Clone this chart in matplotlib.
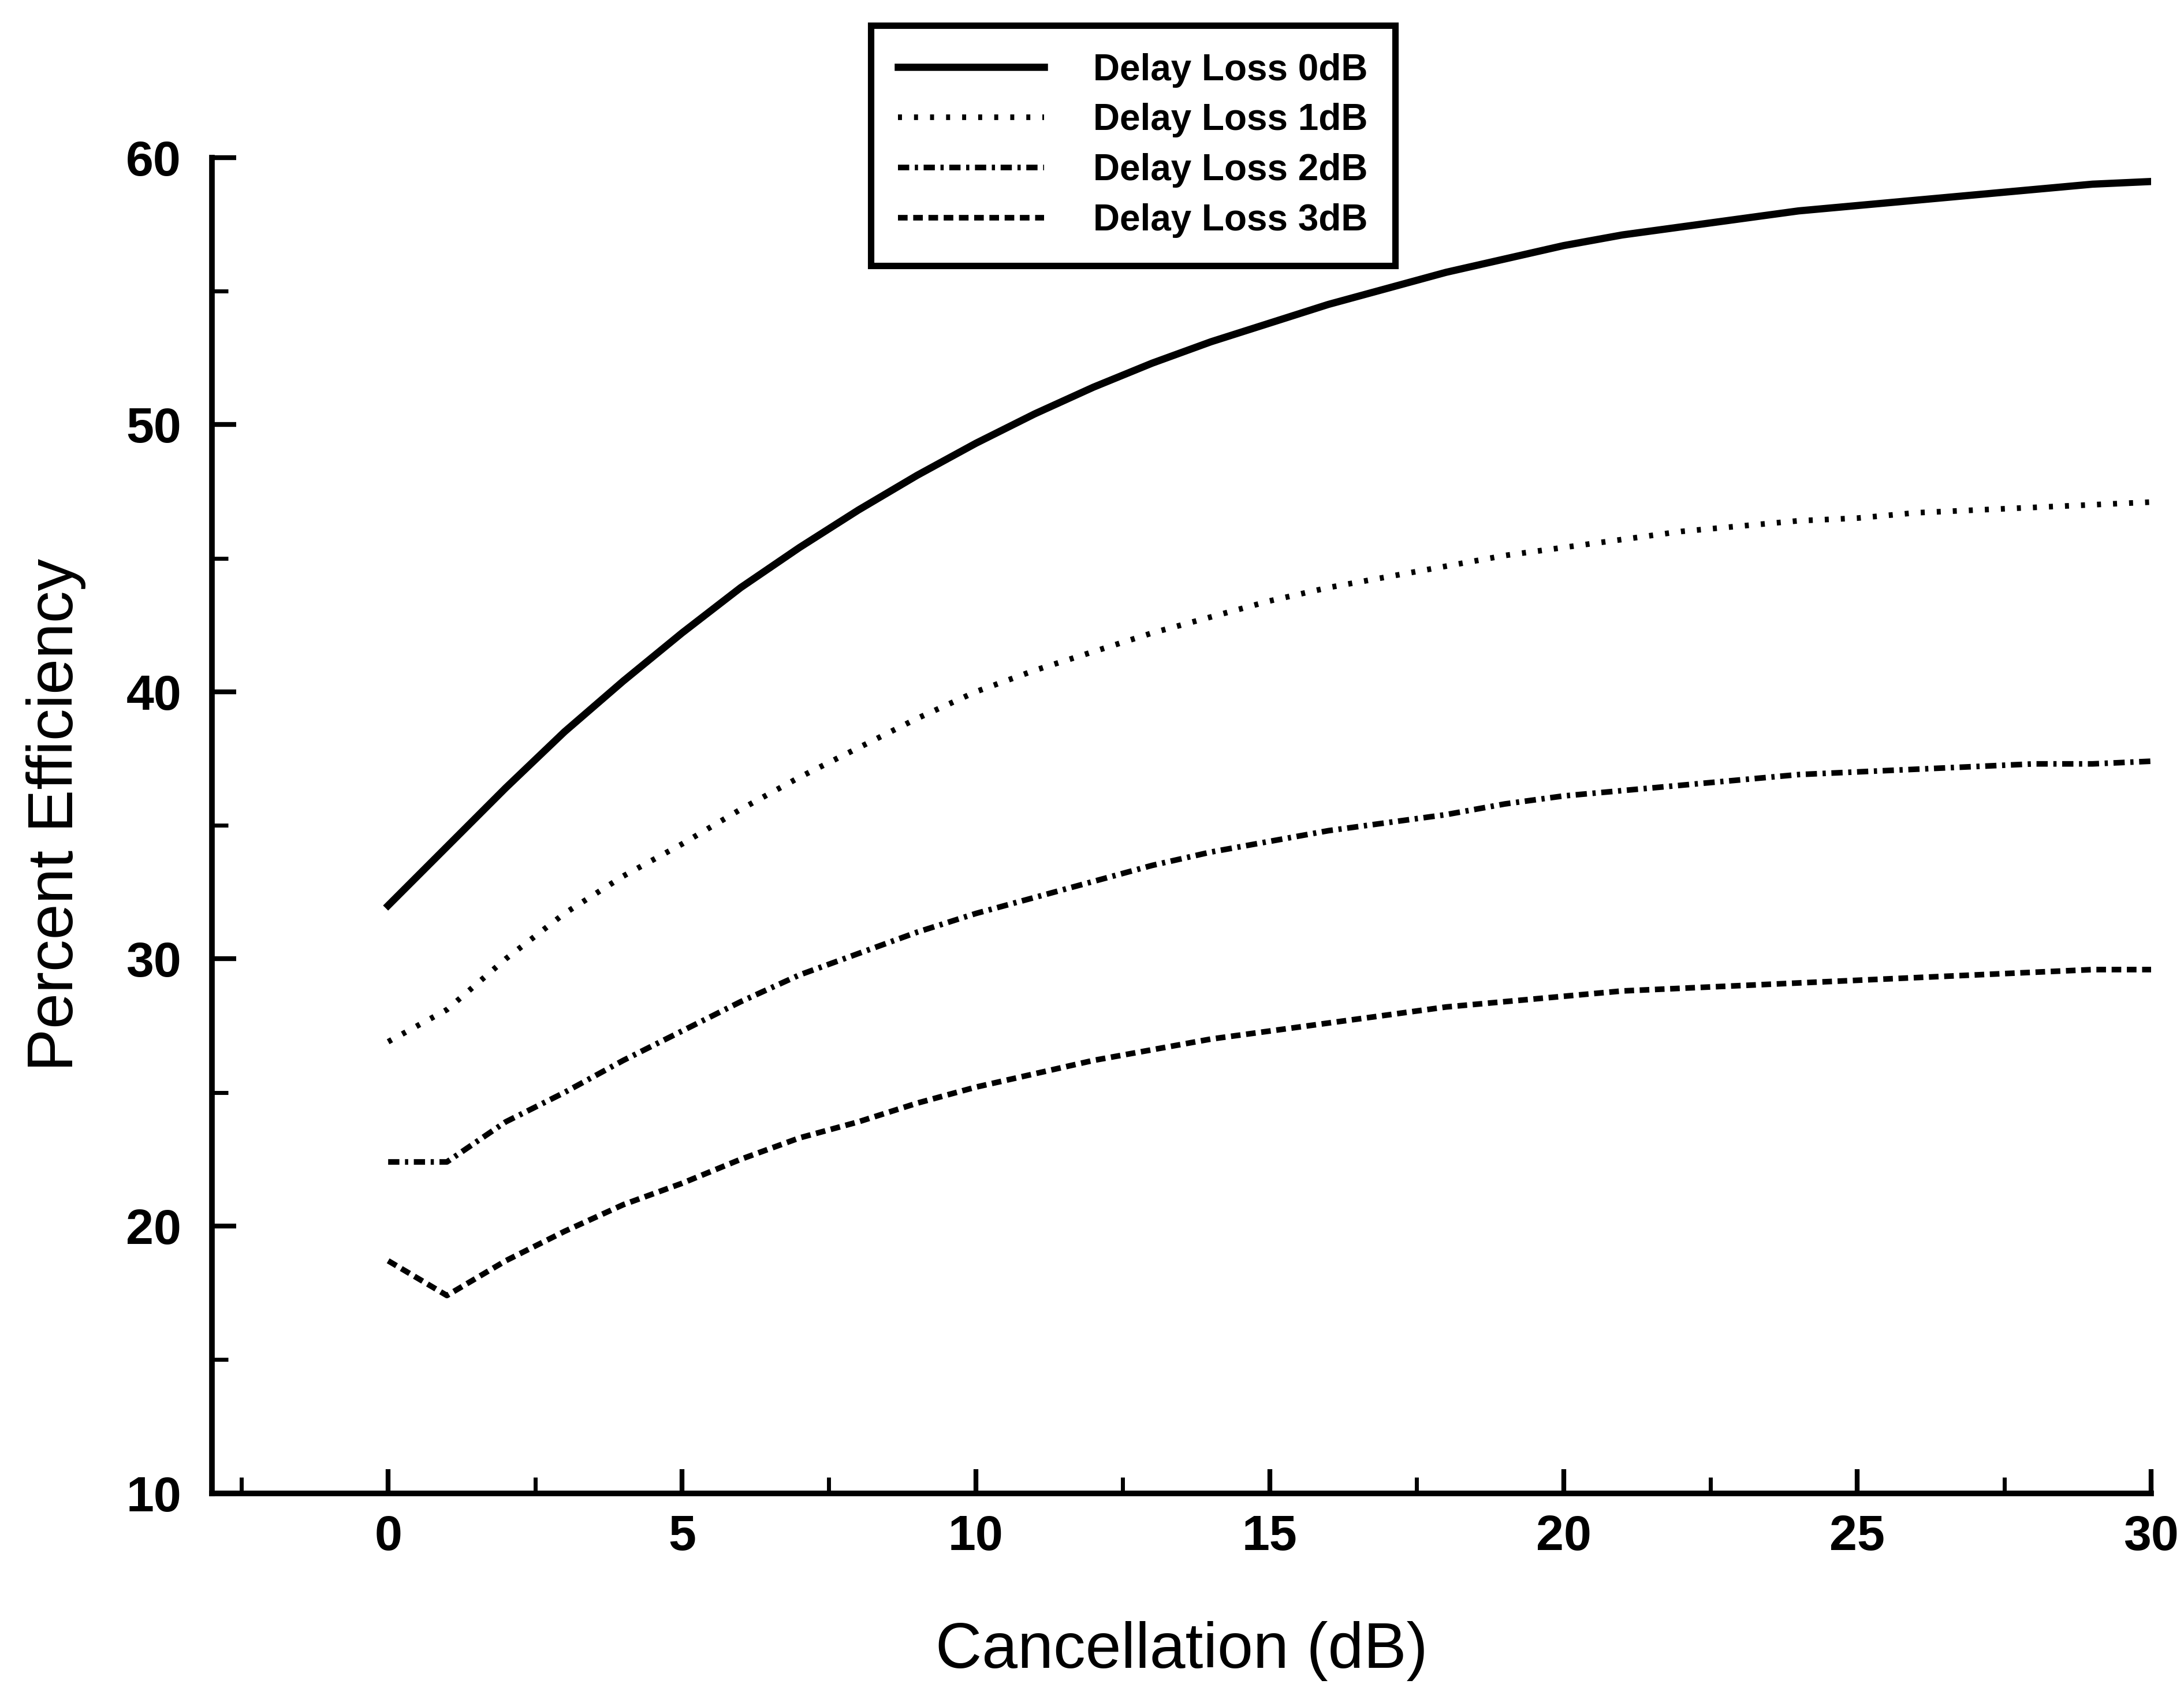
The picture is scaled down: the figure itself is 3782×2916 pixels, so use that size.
import matplotlib
matplotlib.use('Agg')
import matplotlib.pyplot as plt
from matplotlib.ticker import MultipleLocator

# values (percent efficiency vs cancellation)
cancel_db = list(range(0, 31))
loss_0db = [32.0, 34.2, 36.4, 38.5, 40.4, 42.2, 43.9, 45.4, 46.8, 48.1, 49.3,
            50.4, 51.4, 52.3, 53.1, 53.8, 54.5, 55.1, 55.7, 56.2, 56.7,
            57.1, 57.4, 57.7, 58.0, 58.2, 58.4, 58.6, 58.8, 59.0, 59.1]
loss_1db = [26.9, 28.1, 30.0, 31.7, 33.1, 34.3, 35.6, 36.8, 37.9, 39.0, 40.0,
            40.8, 41.5, 42.2, 42.8, 43.4, 43.9, 44.3, 44.7, 45.1, 45.4,
            45.7, 46.0, 46.2, 46.4, 46.5, 46.7, 46.8, 46.9, 47.0, 47.1]
loss_2db = [22.4, 22.4, 23.9, 25.0, 26.2, 27.3, 28.4, 29.4, 30.2, 31.0, 31.7,
            32.3, 32.9, 33.5, 34.0, 34.4, 34.8, 35.1, 35.4, 35.8, 36.1,
            36.3, 36.5, 36.7, 36.9, 37.0, 37.1, 37.2, 37.3, 37.3, 37.4]
loss_3db = [18.7, 17.4, 18.7, 19.8, 20.8, 21.6, 22.5, 23.3, 23.9, 24.6, 25.2,
            25.7, 26.2, 26.6, 27.0, 27.3, 27.6, 27.9, 28.2, 28.4, 28.6,
            28.8, 28.9, 29.0, 29.1, 29.2, 29.3, 29.4, 29.5, 29.6, 29.6]
labels = ['Delay Loss 0dB', 'Delay Loss 1dB', 'Delay Loss 2dB', 'Delay Loss 3dB']

plt.rcParams['font.family'] = ['Liberation Sans', 'DejaVu Sans']
plt.rcParams['lines.scale_dashes'] = False

fig = plt.figure(figsize=(18.91, 14.58), dpi=200)
ax = fig.add_axes([0.097, 0.1133, 0.888, 0.7932])

ax.plot(cancel_db, loss_0db, color='black', lw=4.5, label=labels[0])
ax.plot(cancel_db, loss_1db, color='black', lw=3.5, ls=(0, (2.5, 7.5)), label=labels[1])
ax.plot(cancel_db, loss_2db, color='black', lw=3.5, ls=(0, (7, 3.5, 2, 3.5)), label=labels[2])
ax.plot(cancel_db, loss_3db, color='black', lw=3.5, ls=(0, (6, 3.5)), label=labels[3])

ax.set_xlim(-3, 30)
ax.set_ylim(10, 60)
ax.xaxis.set_major_locator(MultipleLocator(5))
ax.xaxis.set_minor_locator(MultipleLocator(2.5))
ax.yaxis.set_major_locator(MultipleLocator(10))
ax.yaxis.set_minor_locator(MultipleLocator(5))

for s in ['top', 'right']:
    ax.spines[s].set_visible(False)
for s in ['left', 'bottom']:
    ax.spines[s].set_linewidth(3.5)

ax.tick_params(which='major', direction='in', length=15, width=3, labelsize=31)
ax.tick_params(which='minor', direction='in', length=10, width=2.5)
ax.tick_params(axis='x', which='major', pad=13)
ax.tick_params(axis='y', which='major', pad=19)
for t in ax.get_xticklabels() + ax.get_yticklabels():
    t.set_fontweight('bold')

ax.set_xlabel('Cancellation (dB)', fontsize=40)
ax.set_ylabel('Percent Efficiency', fontsize=40)
ax.xaxis.label.set_va('center')
ax.yaxis.label.set_va('center')
ax.xaxis.set_label_coords(0.5, -0.118)
ax.yaxis.set_label_coords(-0.0804, 0.508)

leg = fig.legend(loc='upper left', bbox_to_anchor=(0.3986, 0.985), frameon=True,
                 fancybox=False, edgecolor='black', framealpha=1,
                 borderaxespad=0, handlelength=3.96, handletextpad=1.32,
                 labelspacing=0.42, borderpad=0.75,
                 prop={'family': ['Liberation Sans', 'DejaVu Sans'],
                       'weight': 'bold', 'size': 23})
leg.get_frame().set_linewidth(4)

fig.savefig('out.png', dpi=200)
